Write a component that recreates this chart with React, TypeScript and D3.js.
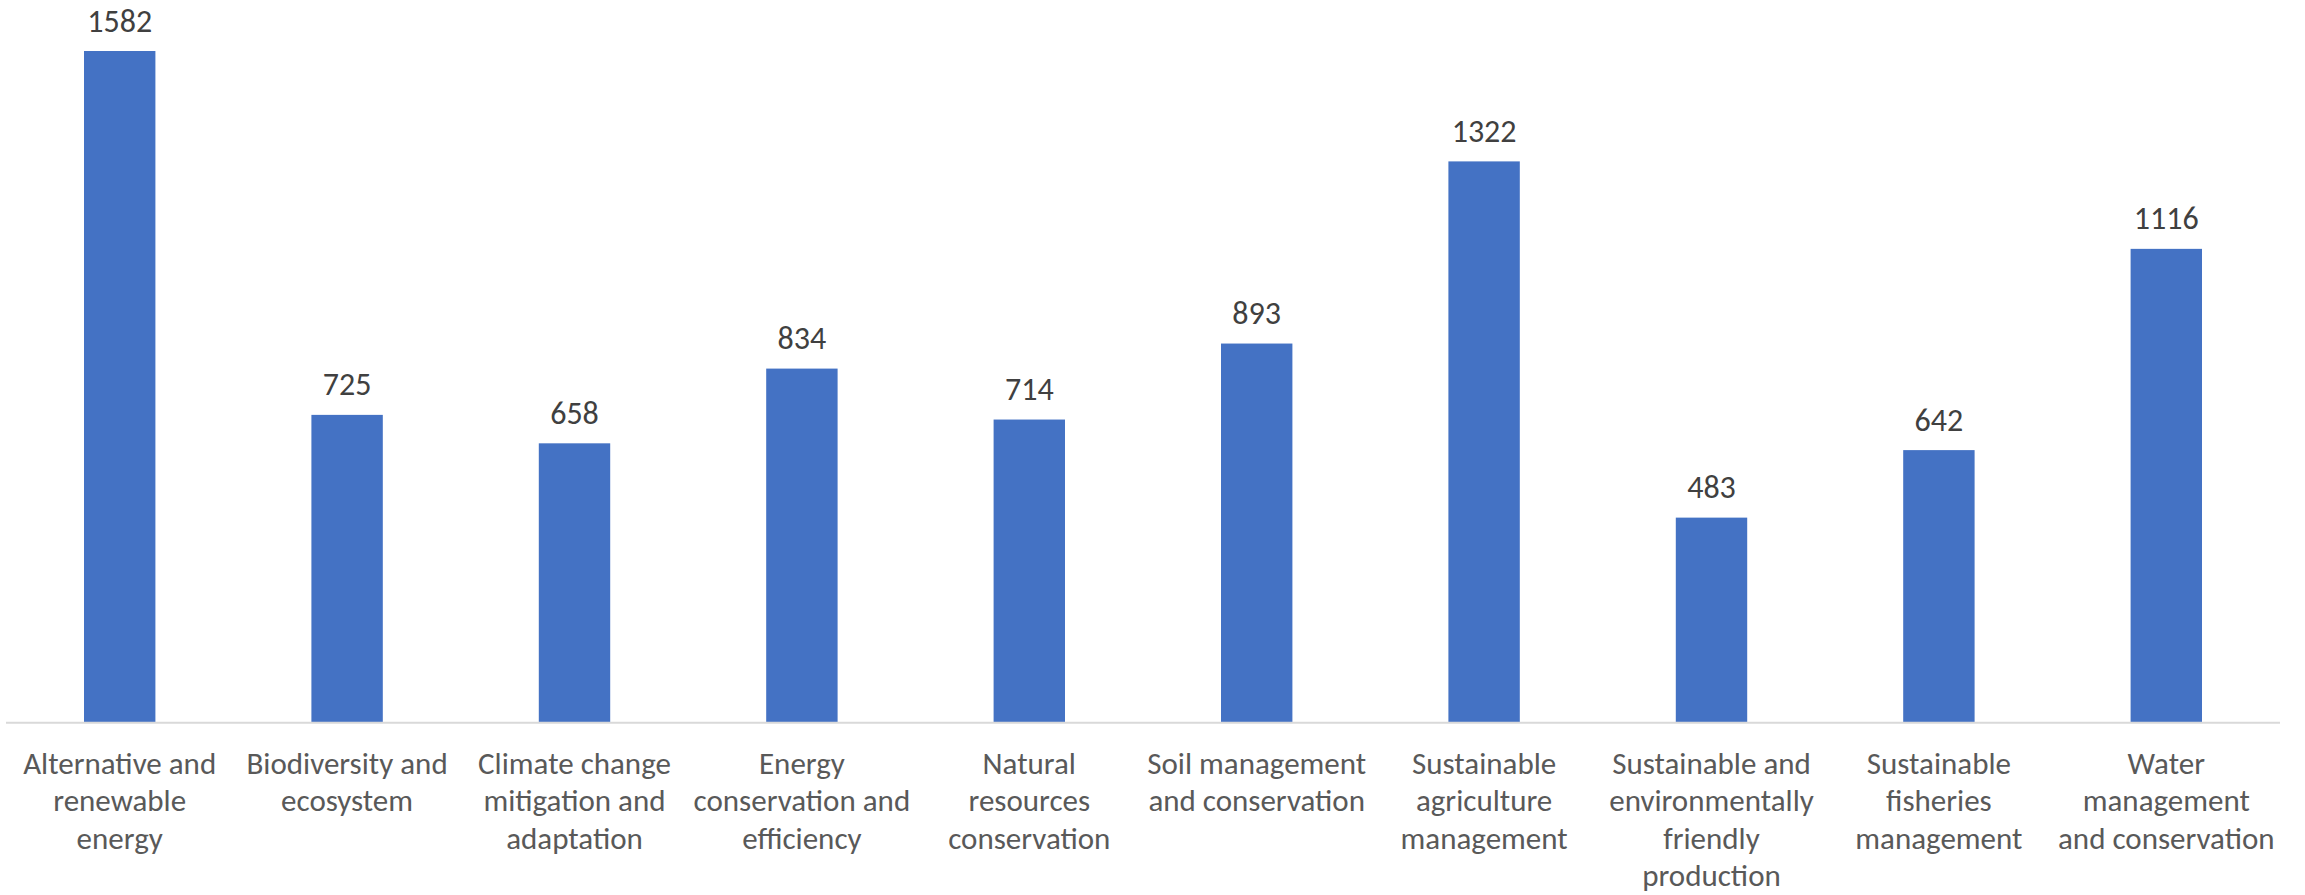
import React from "react";
import * as d3 from "d3";

const categories = [
  "Alternative and renewable energy",
  "Biodiversity and ecosystem",
  "Climate change mitigation and adaptation",
  "Energy conservation and efficiency",
  "Natural resources conservation",
  "Soil management and conservation",
  "Sustainable agriculture management",
  "Sustainable and environmentally friendly production",
  "Sustainable fisheries management",
  "Water management and conservation",
];

const values = [1582, 725, 658, 834, 714, 893, 1322, 483, 642, 1116];

const tickLines = [
  ["Alternative and", "renewable", "energy"],
  ["Biodiversity and", "ecosystem"],
  ["Climate change", "mitigation and", "adaptation"],
  ["Energy", "conservation and", "efficiency"],
  ["Natural", "resources", "conservation"],
  ["Soil management", "and conservation"],
  ["Sustainable", "agriculture", "management"],
  ["Sustainable and", "environmentally", "friendly", "production"],
  ["Sustainable", "fisheries", "management"],
  ["Water", "management", "and conservation"],
];

const W = 2305;
const H = 895;
const FONT = "Calibri, Carlito, Lato, sans-serif";

export default function App() {
  const x = d3
    .scaleBand<string>()
    .domain(categories)
    .range([6, 2280])
    .paddingInner(0.686)
    .paddingOuter(0.343);
  const baseY = 722.7;
  const y = d3.scaleLinear().domain([0, 1582]).range([baseY, 51]);

  return (
    <svg
      width={W}
      height={H}
      style={{ position: "absolute", left: 0, top: 0, display: "block", background: "#fff" }}
    >
      <rect x={0} y={0} width={W} height={H} fill="#ffffff" />
      {categories.map((c, i) => (
        <rect
          key={c}
          x={x(c)}
          y={y(values[i])}
          width={x.bandwidth()}
          height={baseY - y(values[i])}
          fill="#4472C4"
        />
      ))}
      <line x1={6} x2={2280} y1={baseY} y2={baseY} stroke="#D9D9D9" strokeWidth={2} />
      {categories.map((c, i) => (
        <text
          key={"v" + c}
          x={(x(c) as number) + x.bandwidth() / 2}
          y={y(values[i]) - 19.5}
          textAnchor="middle"
          fontFamily={FONT}
          fontSize={32}
          fill="#404040"
        >
          {values[i]}
        </text>
      ))}
      {categories.map((c, i) => (
        <text
          key={"t" + c}
          textAnchor="middle"
          fontFamily={FONT}
          fontSize={31}
          fill="#595959"
        >
          {tickLines[i].map((ln, j) => (
            <tspan key={j} x={(x(c) as number) + x.bandwidth() / 2} y={773.5 + j * 37.5}>
              {ln}
            </tspan>
          ))}
        </text>
      ))}
    </svg>
  );
}
